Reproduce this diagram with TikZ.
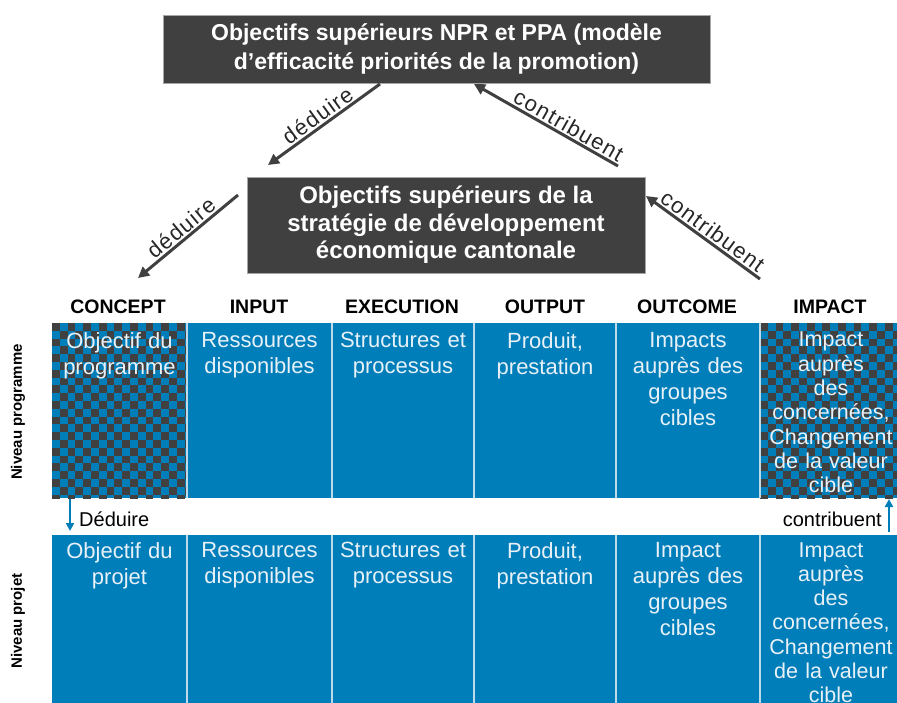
\documentclass[tikz,border=0pt]{standalone}
\usepackage{fontspec}
\setmainfont{Liberation Sans}
\newfontfamily\spacedfont[LetterSpace=6]{Liberation Sans}
\usetikzlibrary{arrows.meta}
\definecolor{cellblue}{RGB}{0,126,186}
\definecolor{darkbox}{RGB}{64,64,64}
\definecolor{celltext}{RGB}{232,241,247}
\definecolor{gapline}{RGB}{190,218,234}
\tikzset{
  titlebox/.style={fill=darkbox, draw=gray!70, line width=0.6pt, text=white, font=\bfseries\fontsize{23}{29}\selectfont, align=center, inner sep=0pt},
  bigarrow/.style={draw=darkbox, line width=3pt, -{Triangle[length=11pt,width=11pt]}},
  arrowlabel/.style={font=\spacedfont\fontsize{22}{24}\selectfont, text=black!85, sloped, above, inner sep=1.5pt},
  header/.style={font=\bfseries\fontsize{19.5}{22}\selectfont, text=black, anchor=base},
  celltxt/.style={text=celltext, font=\fontsize{22}{26}\selectfont, align=center, anchor=north, inner sep=0pt, text width=140pt},
  impacttxt/.style={celltxt, font=\fontsize{21.5}{24.3}\selectfont},
  levellabel/.style={font=\bfseries\fontsize{15}{16}\selectfont, text=black, rotate=90},
  smallarrow/.style={draw=cellblue, line width=2pt, -{Triangle[length=8pt,width=8pt]}},
  smalllabel/.style={font=\fontsize{20}{22}\selectfont, text=black, inner sep=0pt}
}
\begin{document}
\begin{tikzpicture}[x=1pt,y=-1pt]
\useasboundingbox (0,0) rectangle (897,702);
\clip (0,0) rectangle (897,702);

% title boxes
\node[titlebox, minimum width=547pt, minimum height=68pt] (top) at (436.5,49)
  {Objectifs supérieurs NPR et PPA (modèle\\d’efficacité priorités de la promotion)};
\node[titlebox, font=\bfseries\fontsize{24}{27.5}\selectfont, minimum width=398pt, minimum height=96pt] (mid) at (446,225)
  {Objectifs supérieurs de la\\stratégie de développement\\économique cantonale};

% arrow end points
\coordinate (d1a) at (380,84);
\coordinate (d1b) at (268,165);
\coordinate (c1a) at (618,166);
\coordinate (c1b) at (474,84);
\coordinate (d2a) at (238,195);
\coordinate (d2b) at (138,278);
\coordinate (c2a) at (760,279);
\coordinate (c2b) at (646,196);

\draw[bigarrow] (d1a) -- node[arrowlabel] {déduire} (d1b);
\draw[bigarrow] (c1a) -- node[arrowlabel, pos=0.38] {contribuent} (c1b);
\draw[bigarrow] (d2a) -- node[arrowlabel] {déduire} (d2b);
\draw[bigarrow] (c2a) -- node[arrowlabel, pos=0.47] {contribuent} (c2b);

% headers
\node[header] (h1) at (118,313) {CONCEPT};
\node[header] (h2) at (259,313) {INPUT};
\node[header] (h3) at (402,313) {EXECUTION};
\node[header] (h4) at (545,313) {OUTPUT};
\node[header] (h5) at (687,313) {OUTCOME};
\node[header] (h6) at (830,313) {IMPACT};

% upper row
\fill[cellblue] (52,323) rectangle (897,498);
\foreach \xa/\xb in {52/187, 760/897}{
  \begin{scope}
    \clip (\xa,323) rectangle (\xb,498);
    \foreach \i in {0,...,18}{
      \foreach \j in {0,...,22}{
        \pgfmathtruncatemacro{\cpar}{mod(\i+\j,2)}
        \ifnum\cpar=0
          \fill[darkbox] (\xa+\i*7.8, 323+\j*7.8) rectangle ++(7.8,7.8);
        \fi
      }
    }
  \end{scope}
}
% lower row
\fill[cellblue] (52,535) rectangle (897,710);
\foreach \x in {187,332,474,616,760}{
  \draw[gapline, line width=2.5pt] (\x,323) -- (\x,498);
  \draw[gapline, line width=2.5pt] (\x,535) -- (\x,710);
}

% upper row texts
\node[celltxt] (u1) at (119.5,332) {Objectif du\\programme};
\node[celltxt] (u2) at (259.5,332) {Ressources\\disponibles};
\node[celltxt] (u3) at (403,332) {Structures et\\processus};
\node[celltxt] (u4) at (545,332) {Produit,\\prestation};
\node[celltxt] (u5) at (688,332) {Impacts\\auprès des\\groupes\\cibles};
\node[impacttxt] (u6) at (831,332) {Impact\\auprès\\des\\concernées,\\Changement\\de la valeur\\cible};

% lower row texts
\node[celltxt] (l1) at (119.5,542) {Objectif du\\projet};
\node[celltxt] (l2) at (259.5,542) {Ressources\\disponibles};
\node[celltxt] (l3) at (403,542) {Structures et\\processus};
\node[celltxt] (l4) at (545,542) {Produit,\\prestation};
\node[celltxt] (l5) at (688,542) {Impact\\auprès des\\groupes\\cibles};
\node[impacttxt] (l6) at (831,542) {Impact\\auprès\\des\\concernées,\\Changement\\de la valeur\\cible};

% level labels
\node[levellabel] (n1) at (18,412) {Niveau programme};
\node[levellabel] (n2) at (18,621) {Niveau projet};

% small arrows
\coordinate (sd1) at (70,499);
\coordinate (sd2) at (70,531);
\coordinate (sc1) at (889,532);
\coordinate (sc2) at (889,499);
\draw[smallarrow] (sd1) -- (sd2);
\draw[smallarrow] (sc1) -- (sc2);
\node[smalllabel, anchor=west] (ld) at (79,519) {Déduire};
\node[smalllabel, anchor=east] (lc) at (882,519) {contribuent};
\end{tikzpicture}
\end{document}
